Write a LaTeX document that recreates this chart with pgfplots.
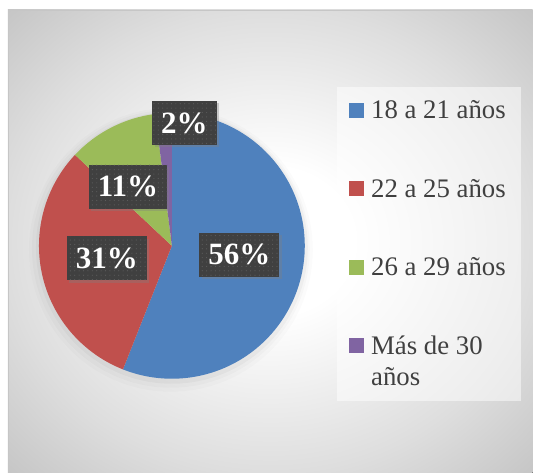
\documentclass[border=0pt]{standalone}
\usepackage{fontspec}
\setmainfont{Liberation Serif}
\usepackage{pgfplots}
\usepackage{pgfplotstable}
\pgfplotsset{compat=1.18}
\usetikzlibrary{shadows,patterns.meta}

\definecolor{pieblue}{HTML}{4F81BD}
\definecolor{piered}{HTML}{C0504D}
\definecolor{piegreen}{HTML}{9BBB59}
\definecolor{piepurple}{HTML}{8064A2}
\definecolor{boxgray}{HTML}{404040}
\definecolor{dotgray}{HTML}{5C5C5C}
\definecolor{txtgray}{HTML}{404040}

\pgfdeclareradialshading{panelbg}{\pgfpoint{0bp}{0bp}}{%
  color(0bp)=(white); color(8bp)=(white); color(25bp)=(gray!26);
  color(36bp)=(gray!46); color(50bp)=(gray!46)}

% share of respondents by age group (%)
\pgfplotstableread{
value colour
56 pieblue
31 piered
11 piegreen
2 piepurple
}\agedata

\tikzset{
  pct/.style={fill=boxgray, text=white,
    font=\bfseries\fontsize{15.5}{18}\selectfont,
    inner xsep=4.5pt, inner ysep=0pt, minimum height=22pt,
    drop shadow={shadow xshift=1.2pt, shadow yshift=-1.2pt, opacity=0.35},
    postaction={pattern={Dots[distance=2.2pt,radius=0.3pt]}, pattern color=dotgray}},
  leg/.style={anchor=base west, text=txtgray, inner sep=0pt,
    font=\fontsize{13.4}{15.5}\selectfont},
}

\begin{document}
\begin{tikzpicture}
  \pgfplotstablegetelem{0}{value}\of\agedata \let\vA\pgfplotsretval
  \pgfplotstablegetelem{1}{value}\of\agedata \let\vB\pgfplotsretval
  \pgfplotstablegetelem{2}{value}\of\agedata \let\vC\pgfplotsretval
  \pgfplotstablegetelem{3}{value}\of\agedata \let\vD\pgfplotsretval
  % slices run clockwise from 12 o'clock
  \pgfmathsetmacro\aA{90-3.6*\vA}
  \pgfmathsetmacro\aB{\aA-3.6*\vB}
  \pgfmathsetmacro\aC{\aB-3.6*\vC}
  \pgfmathsetmacro\aD{\aC-3.6*\vD}
  \def\R{66.5pt}

  \begin{axis}[
      hide axis, clip=false, scale only axis,
      x=0.5pt, y=0.5pt,
      xmin=0, xmax=533, ymin=0, ymax=473,
    ]
    % chart area
    \fill[white] (axis cs:0,0) rectangle (axis cs:533,473);
    \fill[shading=panelbg] (axis cs:8,0) rectangle (axis cs:533,463);
    \draw[gray!45, line width=0.4pt] (axis cs:8,0) -- (axis cs:8,463) -- (axis cs:533,463);

    % soft glow under the pie
    \fill[black, opacity=0.015] (axis cs:171,223) circle[radius=71pt];
    \fill[black, opacity=0.02] (axis cs:171,224) circle[radius=69.5pt];
    \fill[black, opacity=0.03] (axis cs:172,225) circle[radius=68pt];

    \fill[pieblue]   (axis cs:172,227) -- ++(90:\R)  arc[start angle=90,  end angle=\aA, radius=\R] -- cycle;
    \fill[piered]    (axis cs:172,227) -- ++(\aA:\R) arc[start angle=\aA, end angle=\aB, radius=\R] -- cycle;
    \fill[piegreen]  (axis cs:172,227) -- ++(\aB:\R) arc[start angle=\aB, end angle=\aC, radius=\R] -- cycle;
    \fill[piepurple] (axis cs:172,227) -- ++(\aC:\R) arc[start angle=\aC, end angle=\aD, radius=\R] -- cycle;

    % data labels
    \node[pct] at (axis cs:239.5,218) {\vA\%};
    \node[pct] at (axis cs:107,214.5) {\vB\%};
    \node[pct] at (axis cs:128,286) {\vC\%};
    \node[pct] at (axis cs:184.5,350) {\vD\%};

    % legend
    \fill[white, opacity=0.5] (axis cs:337,72) rectangle (axis cs:521,386);
    \fill[pieblue]   (axis cs:349,355) rectangle (axis cs:364,370);
    \fill[piered]    (axis cs:349,276.5) rectangle (axis cs:364,291.5);
    \fill[piegreen]  (axis cs:349,198) rectangle (axis cs:364,213);
    \fill[piepurple] (axis cs:349,119.5) rectangle (axis cs:364,134.5);
    \node[leg] at (axis cs:371,354) {18 a 21 años};
    \node[leg] at (axis cs:371,275.5) {22 a 25 años};
    \node[leg] at (axis cs:371,197) {26 a 29 años};
    \node[leg] at (axis cs:371,118.5) {Más de 30};
    \node[leg] at (axis cs:371,87.5) {años};
  \end{axis}
\end{tikzpicture}
\end{document}
